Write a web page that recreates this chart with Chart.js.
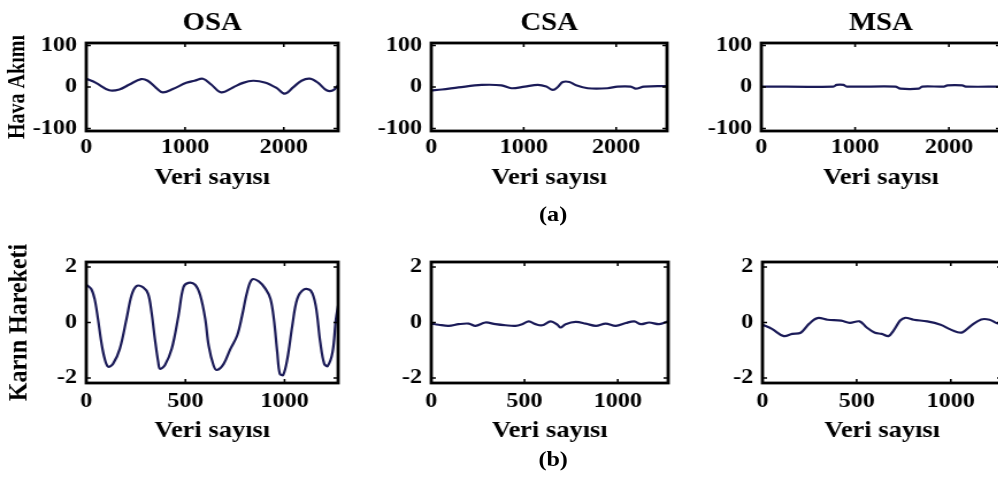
<!DOCTYPE html>
<html>
<head>
<meta charset="utf-8">
<script src="https://cdn.jsdelivr.net/npm/chart.js@4.4.0/dist/chart.umd.min.js"></script>
<style>
  html, body { margin: 0; padding: 0; background: #fff; overflow: hidden; }
  body { width: 998px; height: 487px; position: relative; }
  #wrap { position: absolute; left: 0; top: 0; width: 868px; height: 487px; transform: scaleX(1.15); transform-origin: 0 0; }
  #wrap canvas { position: absolute; }
  .lbl { position: absolute; font: bold 21px "Liberation Serif", "Times New Roman", serif; color: #000; transform: translate(-50%, -50%); white-space: nowrap; }
</style>
</head>
<body>
<div id="wrap">
  <canvas id="osaAir" width="300" height="183" style="left:0px;top:9px"></canvas>
  <canvas id="csaAir" width="261" height="183" style="left:325px;top:9px"></canvas>
  <canvas id="msaAir" width="265" height="183" style="left:612px;top:9px"></canvas>
  <canvas id="osaAbd" width="300" height="213" style="left:0px;top:232px"></canvas>
  <canvas id="csaAbd" width="262" height="213" style="left:325px;top:232px"></canvas>
  <canvas id="msaAbd" width="265" height="213" style="left:613px;top:232px"></canvas>
  <div class="lbl" style="left:481px;top:214px">(a)</div>
  <div class="lbl" style="left:481px;top:459px">(b)</div>
</div>
<script>
// tick labels
const airXTicks = [0, 1000, 2000];
const airYTicks = [-100, 0, 100];
const abdXTicks = [0, 500, 1000];
const abdYTicks = [-2, 0, 2];

// Hava Akımı (airflow), x = sample index
const osaAirX = [0, 98, 233, 335, 437, 555, 623, 707, 775, 876, 1012, 1096, 1181, 1265, 1367, 1485, 1587, 1689, 1807, 1926, 2010, 2094, 2179, 2264, 2348, 2433, 2500, 2550];
const osaAirY = [20, 10, -8, -6, 6, 19, 15, -2, -13, -5, 10, 15, 20, 6, -13, -1, 10, 15, 11, -2, -16, -1, 15, 20, 10, -8, -8, 4];

const csaAirX = [0, 115, 294, 545, 760, 867, 1011, 1154, 1244, 1315, 1369, 1423, 1495, 1566, 1692, 1907, 2014, 2158, 2211, 2301, 2550];
const csaAirY = [-8, -6, -1, 5, 4, -3, 1, 5, 1, -7, 0, 12, 12, 4, -3, -3, 1, 1, -4, 1, 2];

const msaAirX = [0, 768, 803, 875, 911, 1429, 1482, 1679, 1714, 1947, 1983, 2143, 2179, 2550];
const msaAirY = [1, 1, 5, 5, 1, 1, -4, -4, 1, 1, 4, 4, 1, 1];

// Karın Hareketi (abdominal movement)
const osaAbdX = [0, 25, 42, 59, 76, 93, 110, 135, 169, 203, 228, 253, 287, 312, 329, 346, 363, 372, 397, 431, 465, 490, 515, 549, 575, 600, 617, 642, 659, 693, 727, 761, 786, 811, 836, 870, 904, 929, 946, 963, 976, 993, 1014, 1039, 1064, 1098, 1132, 1157, 1180, 1200, 1217, 1242, 1259, 1270];
const osaAbdY = [1.36, 1.21, 0.85, 0.13, -0.71, -1.31, -1.59, -1.49, -0.95, 0.13, 0.97, 1.31, 1.27, 1.03, 0.37, -0.59, -1.43, -1.67, -1.53, -0.95, 0.25, 1.27, 1.43, 1.36, 0.97, 0.13, -0.83, -1.55, -1.71, -1.49, -0.95, -0.47, 0.25, 1.09, 1.55, 1.48, 1.21, 0.85, 0.13, -1.07, -1.85, -1.89, -1.31, -0.11, 0.85, 1.19, 1.15, 0.61, -0.71, -1.49, -1.57, -1.07, 0.13, 0.61];

const csaAbdX = [0, 39, 93, 147, 201, 237, 290, 344, 398, 452, 487, 523, 559, 595, 640, 676, 693, 720, 774, 828, 882, 935, 989, 1043, 1088, 1124, 1168, 1222, 1270];
const csaAbdY = [-0.04, -0.08, -0.12, -0.06, -0.04, -0.12, 0, -0.06, -0.1, -0.12, -0.06, 0.04, -0.06, -0.1, 0.04, -0.08, -0.18, -0.06, 0.02, -0.04, -0.12, -0.04, -0.12, -0.02, 0.04, -0.06, 0, -0.06, 0.04];

const msaAbdX = [0, 50, 113, 158, 203, 247, 292, 346, 418, 463, 516, 552, 597, 633, 669, 696, 731, 758, 803, 875, 946, 991, 1036, 1063, 1108, 1161, 1206, 1242, 1270];
const msaAbdY = [-0.08, -0.23, -0.49, -0.41, -0.37, -0.05, 0.16, 0.1, 0.07, -0.01, 0.04, -0.17, -0.37, -0.41, -0.49, -0.29, 0.07, 0.17, 0.1, 0.04, -0.08, -0.23, -0.35, -0.35, -0.11, 0.11, 0.1, -0.02, -0.05];

const SERIF = '"Liberation Serif", "Times New Roman", serif';
const LINE = '#1b1b58';

// black box round the plot area, with short inward tick marks (matlab look)
const frame = {
  id: 'frame',
  afterDatasetsDraw(chart) {
    const { ctx, chartArea: a, scales } = chart;
    ctx.save();
    ctx.strokeStyle = '#000';
    ctx.lineWidth = 2.8;
    ctx.strokeRect(a.left, a.top, a.right - a.left, a.bottom - a.top);
    ctx.lineWidth = 1.6;
    ctx.beginPath();
    scales.x.ticks.forEach(t => {
      const p = scales.x.getPixelForValue(t.value);
      ctx.moveTo(p, a.bottom); ctx.lineTo(p, a.bottom - 4);
      ctx.moveTo(p, a.top); ctx.lineTo(p, a.top + 4);
    });
    scales.y.ticks.forEach(t => {
      const p = scales.y.getPixelForValue(t.value);
      ctx.moveTo(a.left, p); ctx.lineTo(a.left + 4, p);
      ctx.moveTo(a.right, p); ctx.lineTo(a.right - 4, p);
    });
    ctx.stroke();
    ctx.restore();
  }
};

const asTicks = vals => s => { s.ticks = vals.map(v => ({ value: v })); };

function panel(id, xs, ys, o) {
  const tickFont = { family: SERIF, size: 21, weight: 'bold' };
  new Chart(document.getElementById(id), {
    type: 'line',
    data: {
      datasets: [{
        data: xs.map((x, i) => ({ x: x, y: ys[i] })),
        borderColor: LINE,
        borderWidth: 2.2,
        pointRadius: 0,
        tension: 0.35,
        fill: false
      }]
    },
    options: {
      responsive: false,
      animation: false,
      events: [],
      layout: { padding: { top: o.padTop, right: o.padRight || 6, left: 0, bottom: 0 } },
      plugins: {
        legend: { display: false },
        tooltip: { enabled: false },
        title: {
          display: !!o.title,
          text: o.title,
          fullSize: false,
          color: '#000',
          font: { family: SERIF, size: 25, weight: 'bold' },
          padding: { top: 0, bottom: 4 }
        }
      },
      scales: {
        x: {
          type: 'linear',
          min: 0,
          max: o.xMax,
          grid: { display: false, drawTicks: false },
          border: { display: false },
          ticks: {
            autoSkip: false,
            maxRotation: 0,
            padding: o.xPad,
            color: '#000',
            font: tickFont,
            callback: v => String(v)
          },
          title: { display: true, text: 'Veri sayısı', color: '#000', font: { family: SERIF, size: 23, weight: 'bold' }, padding: 0 },
          afterBuildTicks: asTicks(o.xTicks),
          afterFit: s => { s.height = o.xH; s.paddingLeft = 0; s.paddingRight = 0; }
        },
        y: {
          min: -o.yLim,
          max: o.yLim,
          grid: { display: false, drawTicks: false },
          border: { display: false },
          ticks: {
            padding: 8,
            color: '#000',
            font: tickFont,
            callback: v => String(v)
          },
          title: {
            display: !!o.yTitle,
            text: o.yTitle,
            color: '#000',
            font: { family: SERIF, size: o.yTitleSize || 20, weight: 'bold' },
            padding: { top: o.yTitlePad || 4, bottom: 0 }
          },
          afterBuildTicks: asTicks(o.yTicks),
          afterFit: s => { s.width = o.yW; s.paddingTop = 0; s.paddingBottom = 0; }
        }
      }
    },
    plugins: [frame]
  });
}

const topRow = { padTop: 0, xMax: 2550, xTicks: airXTicks, xPad: 4, xH: 61, yLim: 106, yTicks: airYTicks };
const botRow = { padTop: 30, xMax: 1270, xTicks: abdXTicks, xPad: 6, xH: 62, yLim: 2.18, yTicks: abdYTicks };

panel('osaAir', osaAirX, osaAirY, Object.assign({}, topRow, { title: 'OSA', yTitle: 'Hava Akımı', yW: 75 }));
panel('csaAir', csaAirX, csaAirY, Object.assign({}, topRow, { title: 'CSA', yW: 50 }));
panel('msaAir', msaAirX, msaAirY, Object.assign({}, topRow, { title: 'MSA', yW: 50, padRight: 7 }));
panel('osaAbd', osaAbdX, osaAbdY, Object.assign({}, botRow, { yTitle: 'Karın Hareketi', yTitleSize: 24, yTitlePad: 2, yW: 75 }));
panel('csaAbd', csaAbdX, csaAbdY, Object.assign({}, botRow, { yW: 50 }));
panel('msaAbd', msaAbdX, msaAbdY, Object.assign({}, botRow, { yW: 50, padRight: 7 }));
</script>
</body>
</html>
